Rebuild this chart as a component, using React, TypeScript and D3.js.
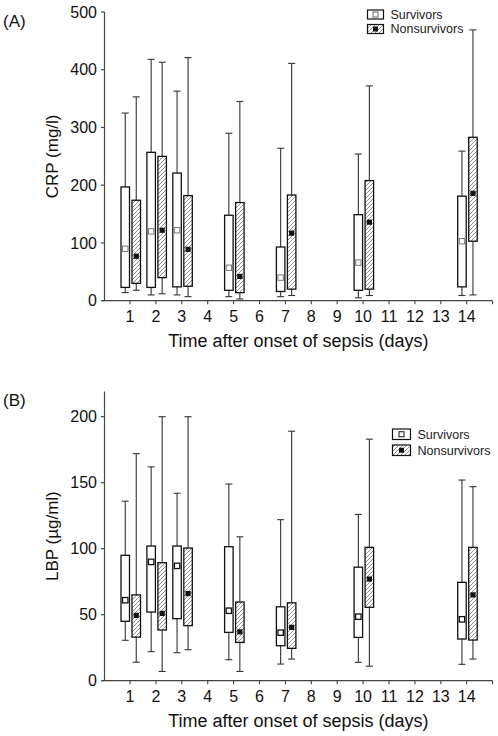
import React from "react";
import * as d3 from "d3";

const days = [1, 2, 3, 5, 7, 10, 14];
const tickDays = [1, 2, 3, 4, 5, 6, 7, 8, 9, 10, 11, 12, 13, 14];

// CRP (mg/l)
const crpSurvMin = [14, 10, 10, 7, 7, 5, 9];
const crpSurvQ1 = [23, 23, 24, 18, 16, 18, 24];
const crpSurvMean = [90, 120, 122, 57, 40, 66, 103];
const crpSurvQ3 = [197, 257, 221, 148, 93, 149, 181];
const crpSurvMax = [325, 418, 363, 290, 264, 254, 259];

const crpNonMin = [18, 12, 7, 3, 9, 9, 10];
const crpNonQ1 = [30, 40, 25, 14, 20, 20, 103];
const crpNonMean = [77, 122, 89, 42, 117, 136, 186];
const crpNonQ3 = [174, 250, 182, 170, 183, 208, 283];
const crpNonMax = [353, 413, 421, 345, 411, 372, 469];

// LBP (µg/ml)
const lbpSurvMin = [30.6, 22, 21.2, 15.9, 12.6, 13.9, 12.4];
const lbpSurvQ1 = [45, 52, 47, 36.6, 26.5, 32.8, 31.6];
const lbpSurvMean = [61, 90, 87, 53, 36.4, 48.5, 46.5];
const lbpSurvQ3 = [95, 102, 102, 101.5, 56, 86, 74.5];
const lbpSurvMax = [136, 162, 142, 149, 122, 126, 152];

const lbpNonMin = [14, 7, 23.5, 7, 16.4, 11, 16.4];
const lbpNonQ1 = [33, 38.4, 41.7, 29, 24.5, 55.6, 30.8];
const lbpNonMean = [49.5, 51, 66, 37, 40.4, 77, 65];
const lbpNonQ3 = [65, 89.4, 100.5, 59.6, 59, 101, 101];
const lbpNonMax = [172, 200, 200, 109, 189, 183, 147];

const crpTicks = [0, 100, 200, 300, 400, 500];
const lbpTicks = [0, 50, 100, 150, 200];

const FONT = "'Liberation Sans', Arial, Helvetica, sans-serif";

const x = d3.scaleLinear().domain([0, 15]).range([104.1, 492.6]);

type Series = { min: number[]; q1: number[]; mean: number[]; q3: number[]; max: number[] };

function Boxes({ s, y, kind, lightMean }: { s: Series; y: d3.ScaleLinear<number, number>; kind: "surv" | "non"; lightMean?: boolean }) {
  return (
    <g>
      {days.map((d, i) => {
        const t = x(d);
        const x0 = kind === "surv" ? t - 9 : t + 2;
        const w = 8.5;
        const cx = x0 + w / 2;
        const whiskerColor = "#333";
        return (
          <g key={d}>
            <line x1={cx} x2={cx} y1={y(s.max[i])} y2={y(s.q3[i])} stroke={whiskerColor} strokeWidth={1.1} />
            <line x1={cx} x2={cx} y1={y(s.q1[i])} y2={y(s.min[i])} stroke={whiskerColor} strokeWidth={1.1} />
            <line x1={cx - 3.5} x2={cx + 3.5} y1={y(s.max[i])} y2={y(s.max[i])} stroke={whiskerColor} strokeWidth={1.1} />
            <line x1={cx - 3.5} x2={cx + 3.5} y1={y(s.min[i])} y2={y(s.min[i])} stroke={whiskerColor} strokeWidth={1.1} />
            <rect
              x={x0}
              y={y(s.q3[i])}
              width={w}
              height={y(s.q1[i]) - y(s.q3[i])}
              fill={kind === "surv" ? "#fff" : "url(#hatch)"}
              stroke="#111"
              strokeWidth={1.3}
            />
            {kind === "surv" ? (
              <rect
                x={cx - 2.7}
                y={y(s.mean[i]) - 2.7}
                width={5.4}
                height={5.4}
                fill="#fff"
                stroke={lightMean ? "#777" : "#111"}
                strokeWidth={lightMean ? 1 : 1.3}
              />
            ) : (
              <rect x={cx - 2.6} y={y(s.mean[i]) - 2.6} width={5.2} height={5.2} fill="#111" />
            )}
          </g>
        );
      })}
    </g>
  );
}

function Panel({
  y,
  ticks,
  topValue,
  label,
  panelLabel,
  panelLabelY,
  surv,
  non,
  legendX,
  legendY,
  legendW,
  legendH,
  lightMean,
}: {
  y: d3.ScaleLinear<number, number>;
  ticks: number[];
  topValue: number;
  label: string;
  panelLabel: string;
  panelLabelY: number;
  surv: Series;
  non: Series;
  legendX: number;
  legendY: number;
  legendW: number;
  legendH: number;
  lightMean?: boolean;
}) {
  const y0 = y(0);
  const yTop = y(topValue);
  const axisColor = "#444";
  return (
    <g fontFamily={FONT}>
      <text x={3} y={panelLabelY} fontSize={17} fill="#111">{panelLabel}</text>
      {/* y axis */}
      <line x1={104.5} x2={104.5} y1={y0} y2={yTop} stroke={axisColor} strokeWidth={1.2} />
      {ticks.map((t) => (
        <g key={t}>
          <line x1={101} x2={104.5} y1={y(t)} y2={y(t)} stroke={axisColor} strokeWidth={1.2} />
          <text x={97} y={y(t)} dy="0.35em" textAnchor="end" fontSize={16} fill="#111">{t}</text>
        </g>
      ))}
      <text transform={`translate(58,${(y0 + yTop) / 2}) rotate(-90)`} textAnchor="middle" fontSize={17} fill="#111">
        {label}
      </text>
      {/* x axis */}
      <line x1={102} x2={x(15)} y1={y0} y2={y0} stroke={axisColor} strokeWidth={1.3} />
      {tickDays.map((d) => (
        <g key={d}>
          <line x1={x(d)} x2={x(d)} y1={y0} y2={y0 + 3.5} stroke={axisColor} strokeWidth={1.1} />
          <text x={x(d)} y={y0 + 21.5} textAnchor="middle" fontSize={16} fill="#111">{d}</text>
        </g>
      ))}
      <line x1={x(15)} x2={x(15)} y1={y0} y2={y0 + 3.5} stroke={axisColor} strokeWidth={1.1} />
      <text x={(x(0) + x(15)) / 2} y={y0 + 46.5} textAnchor="middle" fontSize={18} fill="#111">
        Time after onset of sepsis (days)
      </text>
      <Boxes s={surv} y={y} kind="surv" lightMean={lightMean} />
      <Boxes s={non} y={y} kind="non" />
      {/* legend */}
      <g>
        <rect x={legendX} y={legendY} width={legendW} height={legendH} fill="#fff" stroke="#111" strokeWidth={1.2} />
        <rect
          x={legendX + legendW / 2 - 2.5}
          y={legendY + legendH / 2 - 2.5}
          width={5}
          height={5}
          fill="#fff"
          stroke={lightMean ? "#666" : "#111"}
          strokeWidth={1}
        />
        <rect x={legendX} y={legendY + legendH + 5.5} width={legendW} height={legendH} fill="url(#hatch)" stroke="#111" strokeWidth={1.2} />
        <rect x={legendX + legendW / 2 - 2.5} y={legendY + legendH + 5.5 + legendH / 2 - 2.5} width={5} height={5} fill="#111" />
        <text x={legendX + legendW + 7} y={legendY + legendH / 2} dy="0.35em" fontSize={12.5} fill="#222">Survivors</text>
        <text x={legendX + legendW + 7} y={legendY + legendH * 1.5 + 5.5} dy="0.35em" fontSize={12.5} fill="#222">Nonsurvivors</text>
      </g>
    </g>
  );
}

export default function App() {
  const yCrp = d3.scaleLinear().domain([0, 500]).range([300.7, 12]);
  const yLbp = d3.scaleLinear().domain([0, 200]).range([680.7, 416.7]);
  const crpSurv = { min: crpSurvMin, q1: crpSurvQ1, mean: crpSurvMean, q3: crpSurvQ3, max: crpSurvMax };
  const crpNon = { min: crpNonMin, q1: crpNonQ1, mean: crpNonMean, q3: crpNonQ3, max: crpNonMax };
  const lbpSurv = { min: lbpSurvMin, q1: lbpSurvQ1, mean: lbpSurvMean, q3: lbpSurvQ3, max: lbpSurvMax };
  const lbpNon = { min: lbpNonMin, q1: lbpNonQ1, mean: lbpNonMean, q3: lbpNonQ3, max: lbpNonMax };
  return (
    <svg width={498} height={736} style={{ position: "absolute", left: 0, top: 0, background: "#fff" }}>
      <defs>
        <pattern id="hatch" patternUnits="userSpaceOnUse" width={4} height={4}>
          <rect width={4} height={4} fill="#fff" />
          <path d="M-1,1 l2,-2 M0,4 l4,-4 M3,5 l2,-2" stroke="#777" strokeWidth={0.8} />
        </pattern>
      </defs>
      <rect width={498} height={736} fill="#fff" />
      <Panel
        y={yCrp}
        ticks={crpTicks}
        topValue={500}
        label="CRP (mg/l)"
        panelLabel="(A)"
        panelLabelY={27}
        surv={crpSurv}
        non={crpNon}
        legendX={367.5}
        legendY={10}
        legendW={16}
        legendH={9}
        lightMean
      />
      <Panel
        y={yLbp}
        ticks={lbpTicks}
        topValue={219}
        label="LBP (µg/ml)"
        panelLabel="(B)"
        panelLabelY={406}
        surv={lbpSurv}
        non={lbpNon}
        legendX={392.5}
        legendY={429}
        legendW={18}
        legendH={10.5}
      />
    </svg>
  );
}
